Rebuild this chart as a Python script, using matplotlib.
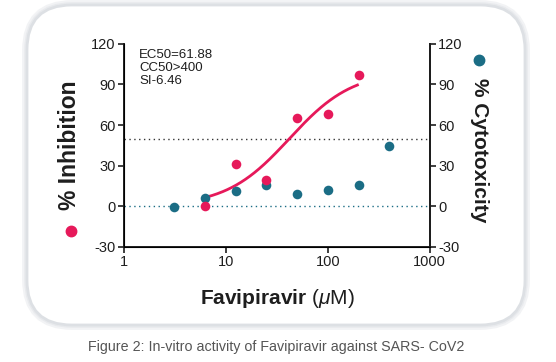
import numpy as np
import matplotlib.pyplot as plt
from matplotlib.patches import FancyBboxPatch

# concentrations (uM) and responses
conc_inh = [6.25, 12.5, 25, 50, 100, 200]
inhibition = [0, 31, 19.5, 65, 68.5, 97]
conc_cyt = [3.125, 6.25, 12.5, 25, 50, 100, 200, 400]
cytotox = [-0.7, 6, 11.6, 15.8, 8.9, 12, 15.5, 44.6]

# 4PL fit parameters for the inhibition curve (bottom, top, ec50, hill)
fit_bottom, fit_top, fit_ec, fit_hill = 0, 100, 42, 1.4
fit_range = (6.5, 195)

y_ticks = [-30, 0, 30, 60, 90, 120]
x_ticks = [1, 10, 100, 1000]
stats_text = "EC50=61.88\nCC50>400\nSI-6.46"
caption = "Figure 2: In-vitro activity of Favipiravir against SARS- CoV2"

red = "#e6195a"
teal = "#1b6d85"
ink = "#1e1e1e"

plt.rcParams["font.family"] = ["Liberation Sans", "DejaVu Sans"]
plt.rcParams["axes.unicode_minus"] = False
plt.rcParams["mathtext.fontset"] = "custom"
plt.rcParams["mathtext.rm"] = "Liberation Sans"
plt.rcParams["mathtext.it"] = "Liberation Sans:italic"
plt.rcParams["mathtext.bf"] = "Liberation Sans:bold"

fig = plt.figure(figsize=(5.56, 3.62), dpi=100)

# rounded card with soft border
for lw, col in [(7, "#f2f3f5"), (4, "#e8eaed"), (2, "#dde0e4")]:
    card = FancyBboxPatch((0.27, 0.37), 4.98, 3.20,
                          boxstyle="round,pad=0,rounding_size=0.45",
                          transform=fig.dpi_scale_trans, facecolor="white",
                          edgecolor=col, linewidth=lw, zorder=0)
    fig.add_artist(card)

ax = fig.add_axes([0.223, 0.318, 0.550, 0.561])
ax.patch.set_alpha(0)
ax.set_xscale("log")
ax.set_xlim(1, 1000)
ax.set_ylim(-30, 120)

xs = np.logspace(np.log10(fit_range[0]), np.log10(fit_range[1]), 200)
curve = fit_bottom + (fit_top - fit_bottom) / (1 + (fit_ec / xs) ** fit_hill)
ax.plot(xs, curve, color=red, lw=2, zorder=3)

ax.axhline(50, color="#333333", lw=1, ls=(0, (1, 2.5)), zorder=1)
ax.axhline(0, color=teal, lw=1, ls=(0, (1, 2.5)), zorder=1)

ax.scatter(conc_cyt, cytotox, s=48, color=teal, zorder=4, linewidths=0)
ax.scatter(conc_inh, inhibition, s=48, color=red, zorder=5, linewidths=0)

ax.spines["top"].set_visible(False)
for side in ["left", "bottom", "right"]:
    ax.spines[side].set_linewidth(1.4)
    ax.spines[side].set_color(ink)

ax.set_xticks(x_ticks)
ax.set_xticklabels([str(t) for t in x_ticks])
ax.xaxis.set_minor_locator(plt.NullLocator())
ax.set_yticks(y_ticks)
ax.tick_params(axis="both", length=4, width=1.2, color=ink, labelsize=10.5,
               labelcolor=ink, pad=2)

ax2 = ax.twinx()
ax2.set_ylim(-30, 120)
ax2.set_yticks(y_ticks)
ax2.spines["top"].set_visible(False)
ax2.spines["right"].set_linewidth(1.4)
ax2.spines["right"].set_color(ink)
ax2.tick_params(axis="y", length=4, width=1.2, color=ink, labelsize=10.5,
                labelcolor=ink, pad=2)

ax.text(0.05, 0.975, stats_text, transform=ax.transAxes, va="top", ha="left",
        fontsize=9.5, color=ink, linespacing=1.1)

# axis titles with marker keys
fig.text(70 / 556, 1 - 145 / 362, "% Inhibition", rotation=90, ha="center",
         va="center", fontsize=16.5, fontweight="bold", color=ink)
fig.add_artist(plt.Line2D([71 / 556], [1 - 231 / 362], marker="o", ms=7.5,
                          color=red, transform=fig.transFigure))
fig.text(479 / 556, 1 - 150 / 362, "% Cytotoxicity", rotation=-90, ha="center",
         va="center", fontsize=15, fontweight="bold", color=ink)
fig.add_artist(plt.Line2D([479 / 556], [1 - 60 / 362], marker="o", ms=7.5,
                          color=teal, transform=fig.transFigure))

fig.text(277 / 556, 1 - 298 / 362, r"$\mathbf{Favipiravir}$ ($\mathit{\mu}$M)",
         ha="center", va="center", fontsize=15, color=ink)

fig.text(276 / 556, 1 - 347 / 362, caption, ha="center", va="center",
         fontsize=10.3, color="#555555")

fig.savefig("out.png", dpi=100)
